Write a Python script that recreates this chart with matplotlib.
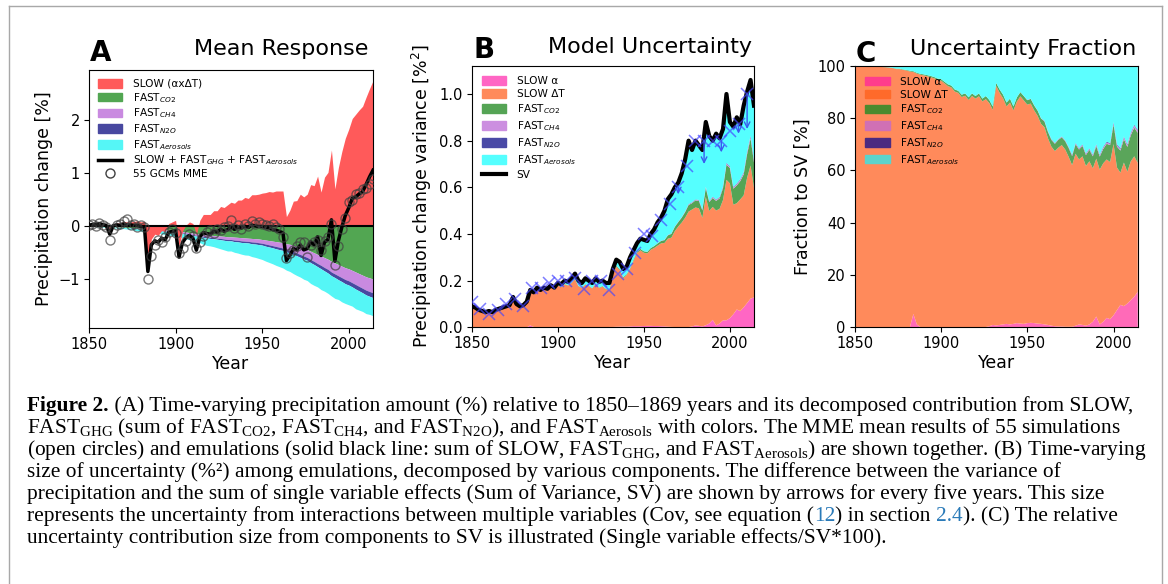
import numpy as np
import matplotlib
matplotlib.use("Agg")
import matplotlib.pyplot as plt
from matplotlib.patches import Patch
from matplotlib.lines import Line2D

W, H = 1168, 584

years = np.arange(1850, 2015, 2)

# ---- panel A: mean response [%] ----
slow = [0.02, 0.03, 0.04, 0.06, 0.05,
        0.03, -0.13, 0.04, 0.06, 0.06,
        0.09, 0.08, 0.08, 0.09, 0.10,
        0.08, 0.09, -0.75, -0.24, -0.15,
        -0.17, -0.08, -0.10, 0.05, 0.08,
        0.11, -0.38, -0.09, 0.02, 0.08,
        0.05, -0.16, 0.11, 0.22, 0.22,
        0.22, 0.29, 0.29, 0.37, 0.35,
        0.40, 0.45, 0.43, 0.49, 0.49,
        0.54, 0.52, 0.59, 0.59, 0.60,
        0.62, 0.63, 0.65, 0.64, 0.66,
        0.66, 0.66, 0.18, 0.30, 0.47,
        0.48, 0.60, 0.55, 0.60, 0.78,
        0.76, 0.94, 0.64, 0.92, 1.01,
        1.43, 0.70, 1.10, 1.40, 1.65,
        1.82, 2.02, 2.10, 2.18, 2.25,
        2.42, 2.58, 2.73]
fast_co2 = [0.0, 0.0, -0.005, -0.005, -0.01,
            -0.01, -0.01, -0.015, -0.015, -0.02,
            -0.02, -0.025, -0.025, -0.03, -0.035,
            -0.04, -0.04, -0.045, -0.05, -0.055,
            -0.06, -0.065, -0.07, -0.075, -0.085,
            -0.09, -0.095, -0.1, -0.11, -0.12,
            -0.13, -0.14, -0.15, -0.155, -0.16,
            -0.17, -0.175, -0.18, -0.185, -0.19,
            -0.2, -0.2, -0.205, -0.21, -0.215,
            -0.22, -0.225, -0.23, -0.235, -0.24,
            -0.25, -0.26, -0.27, -0.28, -0.29,
            -0.3, -0.31, -0.33, -0.34, -0.36,
            -0.38, -0.4, -0.42, -0.44, -0.47,
            -0.5, -0.53, -0.56, -0.59, -0.62,
            -0.66, -0.69, -0.72, -0.75, -0.78,
            -0.8, -0.83, -0.86, -0.89, -0.92,
            -0.95, -0.97, -0.99]
fast_ch4 = [0, 0, 0, 0, 0,
            0, 0, 0, -0.005, -0.005,
            -0.005, -0.005, -0.005, -0.01, -0.01,
            -0.01, -0.01, -0.01, -0.01, -0.015,
            -0.015, -0.015, -0.015, -0.02, -0.02,
            -0.02, -0.02, -0.025, -0.025, -0.03,
            -0.03, -0.03, -0.035, -0.035, -0.04,
            -0.04, -0.04, -0.045, -0.045, -0.05,
            -0.05, -0.05, -0.055, -0.055, -0.06,
            -0.06, -0.06, -0.065, -0.065, -0.07,
            -0.07, -0.075, -0.08, -0.085, -0.09,
            -0.095, -0.1, -0.105, -0.11, -0.12,
            -0.125, -0.13, -0.14, -0.145, -0.155,
            -0.16, -0.17, -0.175, -0.185, -0.19,
            -0.2, -0.205, -0.21, -0.215, -0.22,
            -0.225, -0.23, -0.235, -0.24, -0.245,
            -0.25, -0.255, -0.26]
fast_n2o = [0, 0, 0, 0, 0,
            0, 0, 0, 0, 0,
            0, 0, 0, -0.005, -0.005,
            -0.005, -0.005, -0.005, -0.005, -0.005,
            -0.005, -0.01, -0.01, -0.01, -0.01,
            -0.01, -0.01, -0.01, -0.015, -0.015,
            -0.015, -0.015, -0.015, -0.02, -0.02,
            -0.02, -0.02, -0.02, -0.025, -0.025,
            -0.025, -0.025, -0.03, -0.03, -0.03,
            -0.03, -0.03, -0.035, -0.035, -0.035,
            -0.035, -0.04, -0.04, -0.04, -0.045,
            -0.045, -0.045, -0.05, -0.05, -0.05,
            -0.05, -0.055, -0.055, -0.055, -0.06,
            -0.06, -0.06, -0.065, -0.065, -0.07,
            -0.07, -0.07, -0.075, -0.075, -0.08,
            -0.08, -0.08, -0.085, -0.085, -0.085,
            -0.09, -0.09, -0.09]
fast_aer = [0, 0, -0.005, -0.005, -0.01,
            -0.01, -0.01, -0.015, -0.015, -0.02,
            -0.02, -0.025, -0.025, -0.03, -0.035,
            -0.035, -0.04, -0.04, -0.045, -0.05,
            -0.05, -0.055, -0.06, -0.06, -0.065,
            -0.07, -0.075, -0.08, -0.085, -0.09,
            -0.1, -0.105, -0.11, -0.13, -0.14,
            -0.14, -0.15, -0.16, -0.17, -0.18,
            -0.19, -0.19, -0.2, -0.21, -0.22,
            -0.23, -0.23, -0.24, -0.25, -0.26,
            -0.27, -0.28, -0.29, -0.3, -0.31,
            -0.32, -0.33, -0.34, -0.35, -0.36,
            -0.37, -0.37, -0.38, -0.38, -0.39,
            -0.39, -0.38, -0.39, -0.38, -0.38,
            -0.38, -0.39, -0.37, -0.38, -0.37,
            -0.37, -0.36, -0.37, -0.36, -0.35,
            -0.35, -0.34, -0.34]
mme = [0.03, 0.05, 0.0, 0.06, 0.02,
       -0.02, -0.25, -0.05, 0.02, 0.05,
       0.1, 0.14, 0.02, 0.05, -0.02,
       0.03, -0.02, -1.0, -0.55, -0.35,
       -0.25, -0.3, -0.2, -0.1, -0.05,
       -0.12, -0.5, -0.4, -0.28, -0.15,
       -0.18, -0.4, -0.3, -0.18, -0.1,
       -0.08, -0.12, -0.05, -0.08, -0.02,
       0.0, 0.12, -0.03, 0.02, -0.05,
       0.05, 0.0, 0.1, 0.04, 0.08,
       0.05, 0.02, 0.0, 0.05, -0.02,
       -0.05, -0.2, -0.6, -0.5, -0.45,
       -0.38, -0.3, -0.3, -0.58, -0.35,
       -0.3, -0.25, -0.45, -0.28, -0.2,
       0.05, -0.72, -0.38, -0.05, 0.15,
       0.45, 0.5, 0.6, 0.62, 0.7,
       0.72, 0.8, 0.88]

# ---- panel B / C: sum of variance [%^2] and fractions to SV [%] ----
sv = [0.09, 0.085, 0.075, 0.07, 0.065,
      0.07, 0.065, 0.075, 0.08, 0.085,
      0.09, 0.095, 0.13, 0.1, 0.09,
      0.095, 0.11, 0.16, 0.15, 0.17,
      0.16, 0.17, 0.165, 0.18, 0.17,
      0.19, 0.185, 0.2, 0.195, 0.21,
      0.23, 0.2, 0.19, 0.21, 0.2,
      0.19, 0.21, 0.195, 0.2, 0.19,
      0.19, 0.25, 0.29, 0.28, 0.25,
      0.26, 0.3, 0.33, 0.36, 0.38,
      0.375, 0.37, 0.4, 0.42, 0.45,
      0.47, 0.5, 0.55, 0.57, 0.6,
      0.62, 0.66, 0.72, 0.8, 0.76,
      0.8, 0.78, 0.76, 0.88, 0.82,
      0.8, 0.83, 0.81, 0.85, 1.0,
      0.88, 0.86, 0.9, 0.87, 0.95,
      1.01, 1.06, 0.95]
frac_alpha = [0, 0, 0, 0, 0,
              0, 0, 0, 0, 0,
              0, 0, 0, 0, 0,
              0, 0, 5.0, 1.0, 0,
              0, 0, 0, 0, 0,
              0, 0, 0, 0, 0,
              0, 0, 0, 0, 0,
              0, 0, 0, 0, 0.3,
              0.8, 0.6, 0.8, 1.0, 1.2,
              1.0, 1.2, 1.5, 1.3, 1.2,
              1.5, 1.6, 1.5, 1.3, 1.2,
              1.0, 0.8, 0.5, 0.3, 0.2,
              0.2, 0.1, 0.1, 0.1, 0.5,
              1.0, 0.8, 0.5, 1.0, 2.0,
              4.0, 1.0, 2.0, 3.5, 3.0,
              4.5, 6.5, 8.5, 8.0, 9.0,
              10.3, 11.6, 13.5]
frac_co2 = [0, 0, 0, 0, 0,
            0, 0, 0.1, 0.1, 0.1,
            0.1, 0.1, 0.2, 0.2, 0.2,
            0.2, 0.3, 0.3, 0.3, 0.3,
            0.4, 0.4, 0.5, 0.5, 0.5,
            0.6, 0.6, 0.7, 0.7, 0.8,
            0.8, 0.9, 0.9, 1.0, 1.0,
            1.0, 1.1, 1.1, 1.2, 1.2,
            1.3, 1.2, 1.3, 1.4, 1.5,
            1.5, 1.5, 1.6, 1.6, 1.7,
            1.7, 1.8, 1.9, 2.0, 2.1,
            2.2, 2.4, 2.6, 2.8, 3.0,
            3.0, 3.2, 3.4, 3.5, 3.6,
            3.8, 4.0, 4.2, 4.4, 4.6,
            4.8, 5.0, 5.5, 6.0, 6.5,
            7.5, 8.0, 8.5, 9.0, 9.5,
            10.0, 11.0, 11.5]
frac_ch4 = [0, 0, 0, 0, 0, 0, 0, 0, 0, 0,
            0, 0, 0, 0, 0, 0, 0, 0, 0, 0,
            0, 0, 0, 0, 0, 0, 0, 0, 0, 0,
            0, 0, 0, 0, 0, 0, 0, 0, 0, 0,
            0, 0, 0, 0, 0, 0, 0, 0, 0, 0,
            0.1, 0.1, 0.1, 0.1, 0.1,
            0.2, 0.2, 0.2, 0.2, 0.2,
            0.2, 0.2, 0.3, 0.3, 0.3,
            0.3, 0.4, 0.4, 0.4, 0.4,
            0.5, 0.5, 0.5, 0.5, 0.5,
            0.6, 0.6, 0.6, 0.7, 0.7,
            0.7, 0.8, 0.8]
frac_n2o = [0, 0, 0, 0, 0, 0, 0, 0, 0, 0,
            0, 0, 0, 0, 0, 0, 0, 0, 0, 0,
            0, 0, 0, 0, 0, 0, 0, 0, 0, 0,
            0, 0, 0, 0, 0, 0, 0, 0, 0, 0,
            0, 0, 0, 0, 0, 0, 0, 0, 0, 0,
            0, 0, 0, 0, 0,
            0.1, 0.1, 0.1, 0.1, 0.1,
            0.1, 0.1, 0.1, 0.2, 0.2,
            0.2, 0.2, 0.2, 0.2, 0.2,
            0.2, 0.2, 0.3, 0.3, 0.3,
            0.3, 0.3, 0.3, 0.3, 0.3,
            0.3, 0.3, 0.3]
frac_aer = [0, 0, 0, 0, 0,
            0.1, 0.2, 0.2, 0.3, 0.4,
            0.5, 0.7, 1.0, 1.0, 1.3,
            1.5, 1.8, 2.0, 2.6, 3.0,
            3.2, 3.5, 3.8, 4.2, 4.8,
            5.0, 6.0, 7.0, 7.5, 9.0,
            9.5, 11.0, 10.5, 12.0, 10.5,
            11.5, 10.5, 12.5, 11.5, 13.0,
            15.5, 6.5, 9.0, 11.0, 14.0,
            12.5, 15.5, 12.0, 10.0, 11.5,
            13.0, 12.5, 15.0, 17.0, 20.0,
            21.0, 25.0, 28.0, 29.5, 28.0,
            27.0, 28.5, 31.0, 34.0, 29.5,
            31.5, 30.0, 33.5, 31.5, 34.0,
            30.0, 34.0, 31.0, 29.0, 29.5,
            21.5, 30.0, 31.5, 27.0, 30.0,
            25.5, 22.5, 24.5]

# precipitation variance every five years, and arrows (Cov)
cov_years = np.arange(1850, 2011, 5)
prec_var = [0.11, 0.08, 0.055, 0.075, 0.1, 0.12, 0.09, 0.17, 0.17, 0.19,
            0.2, 0.2, 0.21, 0.165, 0.2, 0.2, 0.16, 0.23, 0.25, 0.32,
            0.4, 0.39, 0.46, 0.53, 0.6, 0.69, 0.8, 0.8, 0.8, 0.8,
            0.84, 0.87, 1.0]
arrow_years = [1970, 1985, 1995, 2005, 2010]
arrow_from = [0.6, 0.8, 0.8, 0.87, 1.0]
arrow_to = [0.57, 0.7, 0.75, 0.83, 0.85]


def fx(x):
    return x / W


def fy(y):
    return 1 - y / H


fig = plt.figure(figsize=(W / 100, H / 100), dpi=100)

axA = fig.add_axes([fx(89), fy(328), (373 - 89) / W, (328 - 70) / H])
axB = fig.add_axes([fx(471.7), fy(327.3), (754 - 471.7) / W, (327.3 - 66) / H])
axC = fig.add_axes([fx(854.7), fy(327), (1137.7 - 854.7) / W, (327 - 66) / H])

leg_kw = dict(loc='upper left', frameon=False, fontsize=7.6, handlelength=2.3,
              handleheight=0.85, handletextpad=1.0)

# ---------------- A ----------------
cA = dict(slow='#ff5a5a', co2='#52a652', ch4='#c98ae0', n2o='#4848a0', aer='#55f6f6')
slow_a = np.array(slow)
l1 = np.array(fast_co2)
l2 = l1 + np.array(fast_ch4)
l3 = l2 + np.array(fast_n2o)
l4 = l3 + np.array(fast_aer)
net = slow_a + l4

axA.fill_between(years, 0, l1, color=cA['co2'], lw=0)
axA.fill_between(years, l1, l2, color=cA['ch4'], lw=0)
axA.fill_between(years, l2, l3, color=cA['n2o'], lw=0)
axA.fill_between(years, l3, l4, color=cA['aer'], lw=0)
axA.fill_between(years, 0, slow_a, color=cA['slow'], lw=0)
axA.axhline(0, color='k', lw=1.5)
axA.plot(years, net, color='k', lw=2.5, zorder=4)
axA.plot(years, mme, 'o', mfc='none', mec='#404040', ms=6.5, mew=1, alpha=0.7, zorder=5)
axA.set_xlim(1850, 2014)
axA.set_ylim(-1.91, 2.93)
axA.set_yticks([-1, 0, 1, 2])
axA.set_ylabel('Precipitation change [%]', fontsize=12.5)

hA = [Patch(color=cA['slow']), Patch(color=cA['co2']), Patch(color=cA['ch4']),
      Patch(color=cA['n2o']), Patch(color=cA['aer']),
      Line2D([], [], color='k', lw=2.5),
      Line2D([], [], ls='none', marker='o', mfc='none', mec='#404040', ms=6.5)]
lA = ['SLOW (αxΔT)', 'FAST$_{CO2}$', 'FAST$_{CH4}$', 'FAST$_{N2O}$',
      'FAST$_{Aerosols}$', 'SLOW + FAST$_{GHG}$ + FAST$_{Aerosols}$', '55 GCMs MME']
axA.legend(hA, lA, labelspacing=0.18, borderaxespad=0.45, **leg_kw)

# ---------------- B ----------------
cB = ['#ff66c4', '#ff8a5b', '#55a455', '#cc8fe0', '#4a4aa6', '#55ffff']
sv_a = np.array(sv)
fa = np.array(frac_alpha)
fc = np.array(frac_co2)
fch = np.array(frac_ch4)
fn = np.array(frac_n2o)
fae = np.array(frac_aer)
fdt = 100 - fa - fc - fch - fn - fae
fracs = [fa, fdt, fc, fch, fn, fae]

axB.stackplot(years, [f * sv_a / 100 for f in fracs], colors=cB, lw=0)
axB.plot(years, sv_a, color='k', lw=3, zorder=4)
axB.plot(cov_years, prec_var, 'x', color='#4646ff', ms=9, mew=1.1, alpha=0.7, zorder=5)
for yr, a0, a1 in zip(arrow_years, arrow_from, arrow_to):
    axB.annotate('', xy=(yr, a1), xytext=(yr, a0), zorder=6,
                 arrowprops=dict(arrowstyle='->', color='#3a5cf0', lw=1.0,
                                 shrinkA=0, shrinkB=0))
axB.set_xlim(1850, 2014)
axB.set_ylim(0, 1.12)
axB.set_yticks([0, 0.2, 0.4, 0.6, 0.8, 1.0])
axB.set_ylabel('Precipitation change variance [%$^2$]', fontsize=12.5)
hB = [Patch(color=c) for c in cB] + [Line2D([], [], color='k', lw=3)]
lB = ['SLOW α', 'SLOW ΔT', 'FAST$_{CO2}$', 'FAST$_{CH4}$', 'FAST$_{N2O}$',
      'FAST$_{Aerosols}$', 'SV']
axB.legend(hB, lB, labelspacing=0.3, borderaxespad=0.55, **leg_kw)

# ---------------- C ----------------
cC = ['#ff6ab8', '#ff8a5b', '#5aa55a', '#cc8fe0', '#4a4aa6', '#5cffff']
axC.stackplot(years, fracs, colors=cC, lw=0)
axC.set_xlim(1850, 2014)
axC.set_ylim(0, 100)
axC.set_yticks([0, 20, 40, 60, 80, 100])
axC.set_ylabel('Fraction to SV [%]', fontsize=12.5)
cCl = ['#ff3d8c', '#ff6a2a', '#4c8a2e', '#d070b4', '#4b2a80', '#5cd3cb']
hC = [Patch(color=c) for c in cCl]
lC = ['SLOW α', 'SLOW ΔT', 'FAST$_{CO2}$', 'FAST$_{CH4}$', 'FAST$_{N2O}$',
      'FAST$_{Aerosols}$']
axC.legend(hC, lC, labelspacing=0.28, borderaxespad=0.6, **leg_kw)

for ax in (axA, axB, axC):
    ax.set_xticks([1850, 1900, 1950, 2000])
    ax.set_xlabel('Year', fontsize=12.5, labelpad=2)
    ax.tick_params(labelsize=10.5, length=3.5, width=0.8, pad=3)
    for s in ax.spines.values():
        s.set_linewidth(0.8)

# panel letters and titles
fig.text(fx(90), fy(61), 'A', fontsize=20, fontweight='bold', va='baseline')
fig.text(fx(368), fy(55), 'Mean Response', fontsize=16, ha='right', va='baseline')
fig.text(fx(473), fy(58), 'B', fontsize=20, fontweight='bold', va='baseline')
fig.text(fx(752.5), fy(53), 'Model Uncertainty', fontsize=16, ha='right', va='baseline')
fig.text(fx(856), fy(62), 'C', fontsize=20, fontweight='bold', va='baseline')
fig.text(fx(1136.5), fy(55), 'Uncertainty Fraction', fontsize=16, ha='right', va='baseline')

# outer frame
fr = dict(color='#a8a8a8', lw=1.0, transform=fig.transFigure)
fig.add_artist(Line2D([fx(9), fx(9)], [fy(6), 0], **fr))
fig.add_artist(Line2D([fx(9), fx(1162)], [fy(6), fy(6)], **fr))
fig.add_artist(Line2D([fx(1162), fx(1162)], [fy(6), 0], **fr))

# ---------------- caption ----------------
serif = 'Liberation Serif'
link = '#2a7ab8'
cap = [
    [('Figure 2.', 'bold', 'k'),
     (' (A) Time-varying precipitation amount (%) relative to 1850–1869 years and its decomposed contribution from SLOW,', 'normal', 'k')],
    [(r'FAST$_\mathregular{GHG}$ (sum of FAST$_\mathregular{CO2}$, FAST$_\mathregular{CH4}$, and FAST$_\mathregular{N2O}$), and FAST$_\mathregular{Aerosols}$ with colors. The MME mean results of 55 simulations', 'normal', 'k')],
    [(r'(open circles) and emulations (solid black line: sum of SLOW, FAST$_\mathregular{GHG}$, and FAST$_\mathregular{Aerosols}$) are shown together. (B) Time-varying', 'normal', 'k')],
    [('size of uncertainty (%²) among emulations, decomposed by various components. The difference between the variance of', 'normal', 'k')],
    [('precipitation and the sum of single variable effects (Sum of Variance, SV) are shown by arrows for every five years. This size', 'normal', 'k')],
    [('represents the uncertainty from interactions between multiple variables (Cov, see equation (', 'normal', 'k'),
     ('12', 'normal', link), (') in section ', 'normal', 'k'), ('2.4', 'normal', link),
     ('). (C) The relative', 'normal', 'k')],
    [('uncertainty contribution size from components to SV is illustrated (Single variable effects/SV*100).', 'normal', 'k')],
]
renderer = fig.canvas.get_renderer()


def advance(s, size, weight):
    t1 = fig.text(0, 0, s + '|', fontsize=size, fontweight=weight, family=serif)
    t2 = fig.text(0, 0, '|', fontsize=size, fontweight=weight, family=serif)
    w = t1.get_window_extent(renderer).width - t2.get_window_extent(renderer).width
    t1.remove()
    t2.remove()
    return w


base = 13.0
wl1 = sum(advance(s, base, wt) for s, wt, _ in cap[0])
csize = base * (1100 / wl1)

baselines = [411, 433, 455, 477, 499, 521, 543]
for segs, yb in zip(cap, baselines):
    x = 27.0
    for s, wt, col in segs:
        fig.text(fx(x), fy(yb), s, fontsize=csize, fontweight=wt, color=col,
                 family=serif, va='baseline', ha='left')
        x += advance(s, csize, wt)

fig.savefig('out.png', dpi=100)
